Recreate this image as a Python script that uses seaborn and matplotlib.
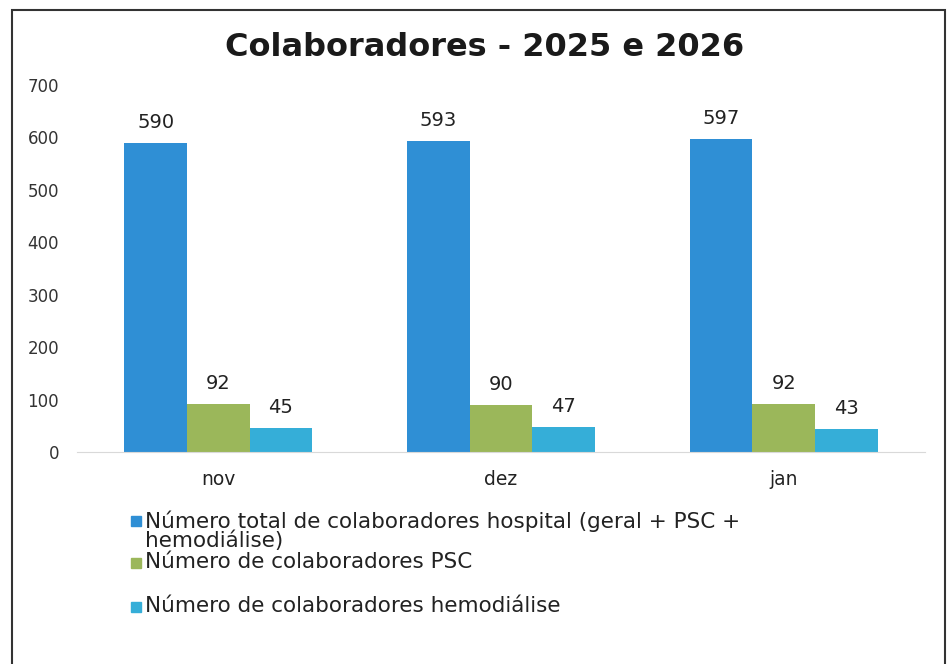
import matplotlib
matplotlib.use("Agg")
import pandas as pd
import seaborn as sns
from matplotlib import pyplot as plt
from matplotlib.patches import Rectangle

months = ["nov", "dez", "jan"]
series = [
    "Número total de colaboradores hospital (geral + PSC +\nhemodiálise)",
    "Número de colaboradores PSC",
    "Número de colaboradores hemodiálise",
]
total_hospital = [590, 593, 597]
psc = [92, 90, 92]
hemodialise = [45, 47, 43]
colors = ["#2F8FD5", "#9BB75A", "#35AED8"]

df = pd.DataFrame({
    "mes": months * 3,
    "serie": [series[0]] * 3 + [series[1]] * 3 + [series[2]] * 3,
    "valor": total_hospital + psc + hemodialise,
})

sns.set_style("white")
plt.rcParams["font.family"] = ["DejaVu Sans"]

fig = plt.figure(figsize=(9.49, 6.64), dpi=100)
ax = fig.add_axes([77 / 949, 1 - 452 / 664, 848 / 949, 367 / 664])

sns.barplot(data=df, x="mes", y="valor", hue="serie", order=months,
            hue_order=series, palette=colors, width=0.665, gap=0,
            saturation=1, linewidth=0, ax=ax, legend=False)

for cont in ax.containers:
    ax.bar_label(cont, padding=8, fontsize=14, color="#222222")

ax.set_ylim(0, 700)
ax.set_yticks(range(0, 701, 100))
ax.set_xlabel("")
ax.set_ylabel("")
ax.tick_params(axis="y", length=0, pad=13, labelsize=12, labelcolor="#333333")
ax.tick_params(axis="x", length=0, pad=13, labelsize=13.5, labelcolor="#222222")
sns.despine(ax=ax, left=True)
ax.spines["bottom"].set_color("#d9d9d9")

fig.text(485 / 949, 1 - 47 / 664, "Colaboradores - 2025 e 2026",
         ha="center", va="center", fontsize=23, fontweight="bold",
         color="#1a1a1a")

# legend below the plot, square on first line of each label
leg_y = [521, 563, 607]
for name, col, yy in zip(series, colors, leg_y):
    fig.patches.append(Rectangle((131 / 949, 1 - (yy + 5) / 664),
                                 10 / 949, 10 / 664,
                                 transform=fig.transFigure, color=col))
    fig.text(145 / 949, 1 - (yy - 11) / 664, name, ha="left", va="top",
             fontsize=15.5, color="#222222", linespacing=0.92)

# outer frame
fig.patches.append(Rectangle((12 / 949, -0.1), 933 / 949, 1.1 - 10 / 664,
                             transform=fig.transFigure, fill=False,
                             edgecolor="#333333", linewidth=1.5))

fig.savefig("out.png", dpi=100)
